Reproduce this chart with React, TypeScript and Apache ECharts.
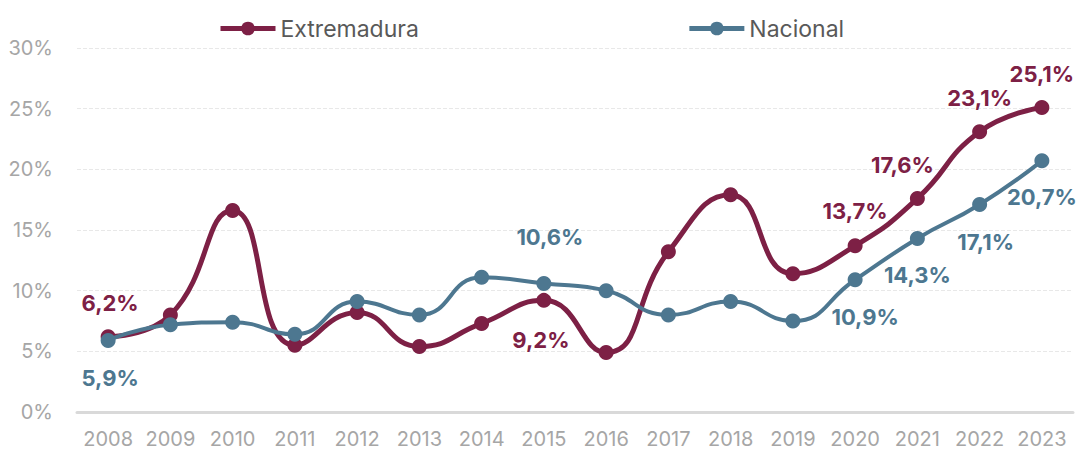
import React, { useEffect, useRef } from "react";
import * as echarts from "echarts";

const years = ["2008", "2009", "2010", "2011", "2012", "2013", "2014", "2015", "2016", "2017", "2018", "2019", "2020", "2021", "2022", "2023"];
const extremadura = [6.2, 8.0, 16.6, 5.5, 8.2, 5.4, 7.3, 9.2, 4.9, 13.2, 17.9, 11.4, 13.7, 17.6, 23.1, 25.1];
const nacional = [5.9, 7.2, 7.4, 6.4, 9.1, 8.0, 11.1, 10.6, 10.0, 8.0, 9.1, 7.5, 10.9, 14.3, 17.1, 20.7];

// which points carry a label: [index, position, distance, offsetX]
const extLabels: [number, string, number, number][] = [
  [0, "top", 15, 2],
  [7, "bottom", 21, -3],
  [12, "top", 16, 0],
  [13, "top", 15, -15],
  [14, "top", 15, 0],
  [15, "top", 15, 0],
];
const nacLabels: [number, string, number, number][] = [
  [0, "bottom", 19, 2],
  [7, "top", 28, 6],
  [12, "bottom", 19, 10],
  [13, "bottom", 18, 0],
  [14, "bottom", 19, 6],
  [15, "bottom", 18, 0],
];

const EXT = "#7d2045";
const NAC = "#4d7790";
const FONT = "Inter, 'Open Sans', sans-serif";

const fmt = (v: number) => v.toFixed(1).replace(".", ",") + "%";

function buildData(values: number[], labels: [number, string, number, number][], color: string) {
  return values.map((v, i) => {
    const l = labels.find((x) => x[0] === i);
    if (!l) return { value: v };
    return {
      value: v,
      label: {
        show: true,
        position: l[1],
        distance: l[2],
        offset: [l[3], 0],
        formatter: (p: any) => fmt(p.value),
        color,
        fontSize: 22,
        fontWeight: "bold",
        fontFamily: FONT,
      },
    };
  });
}

export default function App() {
  const ref = useRef<HTMLDivElement>(null);
  useEffect(() => {
    if (!ref.current) return;
    const chart = echarts.init(ref.current, undefined, { renderer: "svg" });
    chart.setOption({
      animation: false,
      backgroundColor: "#ffffff",
      textStyle: { fontFamily: FONT },
      legend: {
        left: 213,
        top: 12,
        itemGap: 268,
        itemWidth: 55,
        itemHeight: 17,
        lineStyle: { width: 5 },
        textStyle: { color: "#595959", fontSize: 23, fontFamily: FONT },
        data: ["Extremadura", "Nacional"],
      },
      grid: { left: 77, right: 8, top: 48, bottom: 41, containLabel: false },
      xAxis: {
        type: "category",
        data: years,
        boundaryGap: true,
        axisLine: { lineStyle: { color: "#d9d9d9", width: 3 } },
        axisTick: { show: false },
        axisLabel: { color: "#a6a6a6", fontSize: 20, margin: 17, interval: 0, fontFamily: FONT },
      },
      yAxis: {
        type: "value",
        min: 0,
        max: 30,
        interval: 5,
        axisLine: { show: false },
        axisTick: { show: false },
        axisLabel: { color: "#a6a6a6", fontSize: 20, margin: 24, formatter: "{value}%", fontFamily: FONT },
        splitLine: { lineStyle: { color: "#e8e8e8", width: 1, type: "dashed" } },
      },
      series: [
        {
          name: "Extremadura",
          type: "line",
          smooth: 0.5,
          data: buildData(extremadura, extLabels, EXT),
          symbol: "circle",
          symbolSize: 15,
          lineStyle: { color: EXT, width: 5 },
          itemStyle: { color: EXT },
          z: 2,
        },
        {
          name: "Nacional",
          type: "line",
          smooth: 0.5,
          data: buildData(nacional, nacLabels, NAC),
          symbol: "circle",
          symbolSize: 15,
          lineStyle: { color: NAC, width: 4 },
          itemStyle: { color: NAC },
          z: 3,
        },
      ],
    });
    return () => chart.dispose();
  }, []);
  return <div ref={ref} style={{ position: "absolute", left: 0, top: 0, width: 1081, height: 453 }} />;
}
